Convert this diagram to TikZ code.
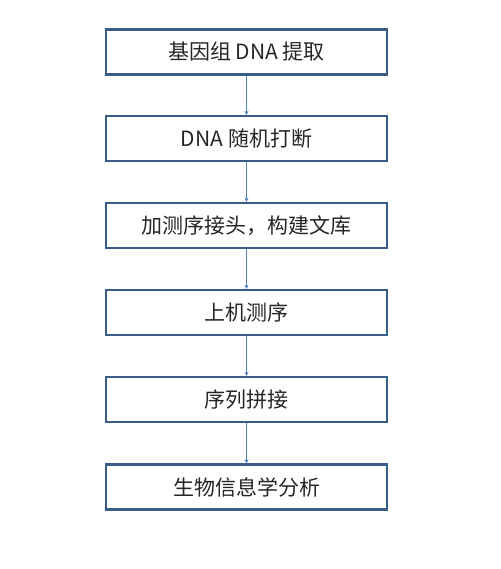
\documentclass[tikz,border=0pt]{standalone}
\usepackage{fontspec}
\newfontfamily\cjk{Noto Sans CJK SC}
\usetikzlibrary{arrows.meta}
\definecolor{boxline}{HTML}{385D8A}
\definecolor{arrowline}{HTML}{4F81BD}
\begin{document}
\begin{tikzpicture}[x=1pt,y=-1pt,
  stepbox/.style={draw=boxline,line width=2.4pt,minimum width=281pt,minimum height=45pt,inner sep=0pt,font=\cjk\fontsize{21}{24}\selectfont,text=black!85},
  flow/.style={draw=arrowline,line width=0.8pt,-{Stealth[length=4pt,width=4pt]}}]
\useasboundingbox (0,0) rectangle (500,569);
\node[stepbox] (a) at (246.5,52) {基因组 DNA 提取};
\node[stepbox] (b) at (246.5,138.5) {DNA 随机打断};
\node[stepbox] (c) at (246.5,225.5) {加测序接头，构建文库};
\node[stepbox] (d) at (246.5,312.5) {上机测序};
\node[stepbox] (e) at (246.5,399.5) {序列拼接};
\node[stepbox] (f) at (246.5,487) {生物信息学分析};
\draw[flow] (a) -- (b);
\draw[flow] (b) -- (c);
\draw[flow] (c) -- (d);
\draw[flow] (d) -- (e);
\draw[flow] (e) -- (f);
\end{tikzpicture}
\end{document}
